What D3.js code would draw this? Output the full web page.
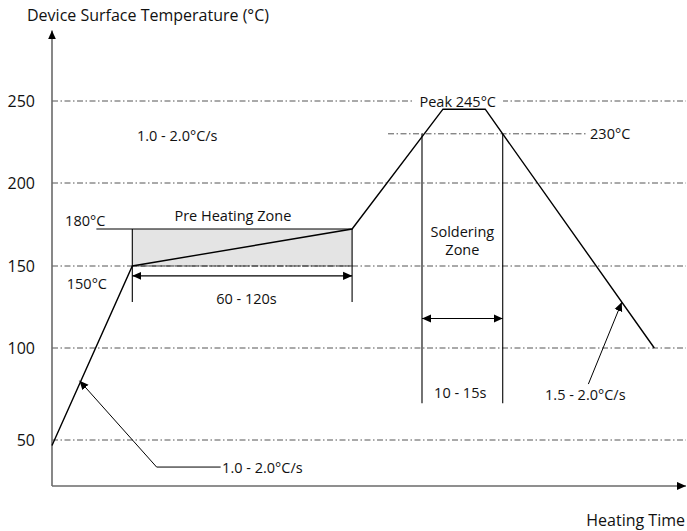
<!DOCTYPE html>
<html>
<head>
<meta charset="utf-8">
<script src="https://cdn.jsdelivr.net/npm/d3@7"></script>
<style>
  html, body { margin: 0; padding: 0; background: #fff; }
  text { font-family: "Open Sans", "Noto Sans", sans-serif; fill: #111; }
</style>
</head>
<body>
<svg id="chart" width="687" height="531"></svg>
<script>
// ---------- data ----------
const yTicks = [50, 100, 150, 200, 250];
const profileTime = [0, 38, 142, 185, 205, 285];      // schematic time units
const profileTemp = [47, 150, 180, 245, 245, 100];    // °C
const preheatTemps = [150, 180];
const solderTemp = 230;
const peakTemp = 245;
const preheatLabel = "Pre Heating Zone";
const preheatSpan = "60 - 120s";
const solderLabel = ["Soldering", "Zone"];
const solderSpan = "10 - 15s";
const rampUpRate = "1.0 - 2.0°C/s";
const rampDownRate = "1.5 - 2.0°C/s";
const yTitle = "Device Surface Temperature (°C)";
const xTitle = "Heating Time";

// ---------- scales ----------
const svg = d3.select("#chart");
const x = d3.scaleLinear().domain([0, 300]).range([52, 686]);
const y = d3.scaleLinear()
  .domain([25, 50, 100, 150, 180, 200, 250])
  .range([486, 440, 348, 266, 229, 183, 101]);

const pts = profileTime.map((t, i) => [t, profileTemp[i]]);
function crossTime(temp, seg) {
  const [a, b] = [pts[seg], pts[seg + 1]];
  return a[0] + (temp - a[1]) / (b[1] - a[1]) * (b[0] - a[0]);
}
function tempAt(t, seg) {
  const [a, b] = [pts[seg], pts[seg + 1]];
  return a[1] + (t - a[0]) / (b[0] - a[0]) * (b[1] - a[1]);
}
const solderStart = crossTime(solderTemp, 2);
const solderEnd = crossTime(solderTemp, 4);

// ---------- markers ----------
const defs = svg.append("defs");
function marker(id, orient) {
  defs.append("marker").attr("id", id)
    .attr("viewBox", "0 0 10 10").attr("refX", 10).attr("refY", 5)
    .attr("markerWidth", 9).attr("markerHeight", 9)
    .attr("markerUnits", "userSpaceOnUse")
    .attr("orient", orient)
    .append("path").attr("d", "M0,0.5 L10,5 L0,9.5 Z").attr("fill", "#000");
}
marker("arr", "auto");
marker("arr2", "auto-start-reverse");

const line = d3.line().x(d => x(d[0])).y(d => y(d[1]));

// ---------- pre-heating box ----------
svg.append("rect")
  .attr("x", x(profileTime[1])).attr("y", y(preheatTemps[1]))
  .attr("width", x(profileTime[2]) - x(profileTime[1]))
  .attr("height", y(preheatTemps[0]) - y(preheatTemps[1]))
  .attr("fill", "#e4e4e4");

// ---------- grid lines ----------
const gridDash = "6,2.5,1.5,2.5";
svg.append("g").selectAll("line").data(yTicks).join("line")
  .attr("x1", x(0)).attr("x2", x(300))
  .attr("y1", d => y(d)).attr("y2", d => y(d))
  .attr("stroke", "#555").attr("stroke-width", 1)
  .attr("stroke-dasharray", gridDash);
svg.append("line")
  .attr("x1", x(profileTime[1])).attr("x2", x(profileTime[2]))
  .attr("y1", y(preheatTemps[0])).attr("y2", y(preheatTemps[0]))
  .attr("stroke", "#333").attr("stroke-width", 1.2)
  .attr("stroke-dasharray", "7,1.5");
svg.append("line")
  .attr("x1", x(159)).attr("x2", x(253.5))
  .attr("y1", y(solderTemp)).attr("y2", y(solderTemp))
  .attr("stroke", "#555").attr("stroke-width", 1)
  .attr("stroke-dasharray", gridDash);

// ---------- axes ----------
svg.append("line")
  .attr("x1", x(0)).attr("x2", x(0))
  .attr("y1", y(25)).attr("y2", y(293))
  .attr("stroke", "#6a6a6a").attr("stroke-width", 1.6)
  .attr("marker-end", "url(#arr)");
svg.append("line")
  .attr("x1", x(0)).attr("x2", x(300))
  .attr("y1", y(25)).attr("y2", y(25))
  .attr("stroke", "#6a6a6a").attr("stroke-width", 1.6)
  .attr("marker-end", "url(#arr)");

const yAxis = svg.append("g")
  .attr("transform", `translate(${x(0)},0)`)
  .call(d3.axisLeft(y).tickValues(yTicks).tickSize(0).tickPadding(17));
yAxis.select(".domain").remove();
yAxis.selectAll("text").style("font-size", "16px")
  .style("font-family", "'Open Sans', sans-serif").attr("fill", "#111");

svg.append("text").attr("x", 27).attr("y", 21)
  .style("font-size", "16px").text(yTitle);
svg.append("text").attr("x", 685).attr("y", 526)
  .attr("text-anchor", "end").style("font-size", "16px").text(xTitle);

// ---------- labels (peak label background first) ----------
const labelsG = svg.append("g");
function label(t, temp, txt, anchor) {
  return labelsG.append("text").attr("x", x(t)).attr("y", y(temp))
    .attr("dominant-baseline", "central")
    .attr("text-anchor", anchor || "start")
    .style("font-size", "14.5px").text(txt);
}
const peakMid = (profileTime[3] + profileTime[4]) / 2 - 3;
const pk = label(peakMid, 250, `Peak ${peakTemp}°C`, "middle");
const bb = pk.node().getBBox();
labelsG.insert("rect", () => pk.node()).attr("x", bb.x - 7).attr("y", y(250) - 4)
  .attr("width", bb.width + 14).attr("height", 8).attr("fill", "#fff");

// ---------- profile & zone lines ----------
const g = svg.append("g").attr("fill", "none").attr("stroke", "#000");
g.append("path").attr("d", line([[21, preheatTemps[1]], [profileTime[2], preheatTemps[1]]]))
  .attr("stroke-width", 1.1);
[profileTime[1], profileTime[2]].forEach(t => {
  g.append("path").attr("d", line([[t, preheatTemps[1]], [t, 128]])).attr("stroke-width", 1.1);
});
[solderStart, solderEnd].forEach(t => {
  g.append("path").attr("d", line([[t, solderTemp], [t, 70]])).attr("stroke-width", 1.1);
});
g.append("path").attr("d", line(pts)).attr("stroke-width", 1.4).attr("stroke-linejoin", "miter");

g.append("path").attr("d", line([[profileTime[1], 144], [profileTime[2], 144]]))
  .attr("stroke-width", 1.1).attr("marker-start", "url(#arr2)").attr("marker-end", "url(#arr)");
g.append("path").attr("d", line([[solderStart, 118], [solderEnd, 118]]))
  .attr("stroke-width", 1.1).attr("marker-start", "url(#arr2)").attr("marker-end", "url(#arr)");

g.append("path").attr("d", line([[79.8, 35.3], [49.5, 35.3], [13, tempAt(13, 0)]]))
  .attr("stroke-width", 1).attr("marker-end", "url(#arr)");
g.append("path").attr("d", line([[253.8, 80.4], [269.6, tempAt(269.6, 4)]]))
  .attr("stroke-width", 1).attr("marker-end", "url(#arr)");

// ---------- other labels ----------
label(254.6, solderTemp, `${solderTemp}°C`);
label(40.2, 228.7, rampUpRate);
label(6.2, 183.5, `${preheatTemps[1]}°C`);
label(7, 139.6, `${preheatTemps[0]}°C`);
label(85.6, 186, preheatLabel, "middle");
label(92, 130, preheatSpan, "middle");
label((solderStart + solderEnd) / 2, 177.6, solderLabel[0], "middle");
label((solderStart + solderEnd) / 2, 163, solderLabel[1], "middle");
label((solderStart + solderEnd) / 2 - 1, 76, solderSpan, "middle");
label(80.5, 35.3, rampUpRate);
label(233.3, 74.5, rampDownRate);
</script>
</body>
</html>
